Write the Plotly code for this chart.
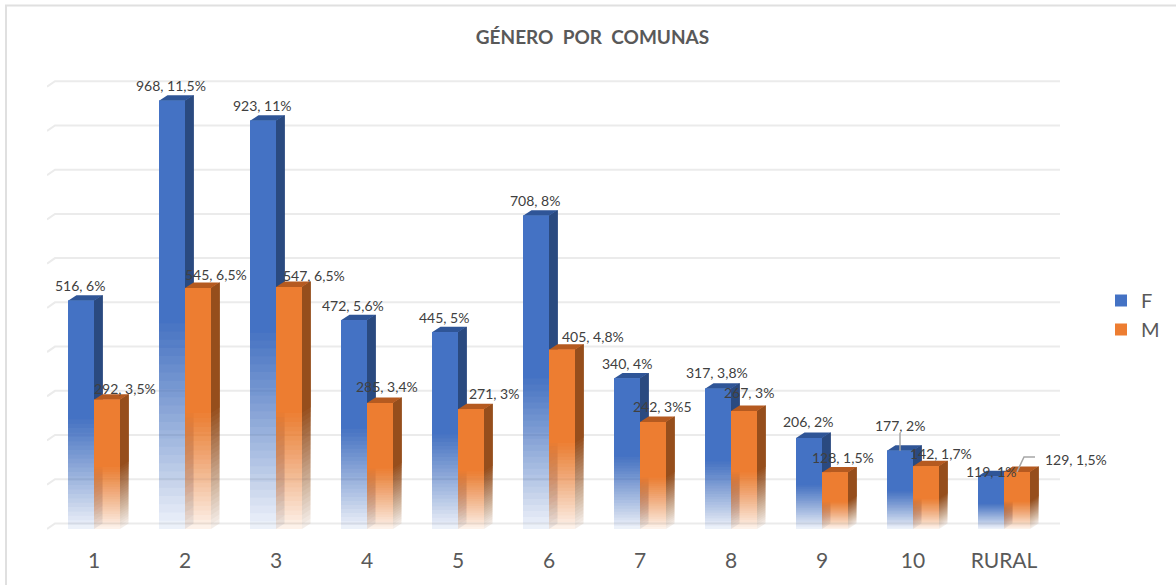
import plotly.graph_objects as go

# ---- data ----
categories = ["1", "2", "3", "4", "5", "6", "7", "8", "9", "10", "RURAL"]
series_f = [516, 968, 923, 472, 445, 708, 340, 317, 206, 177, 119]
series_m = [292, 545, 547, 285, 271, 405, 242, 267, 128, 142, 129]
labels_f = ["516, 6%", "968, 11,5%", "923, 11%", "472, 5,6%", "445, 5%", "708, 8%",
            "340, 4%", "317, 3,8%", "206, 2%", "177, 2%", "119, 1%"]
labels_m = ["292, 3,5%", "545, 6,5%", "547, 6,5%", "285, 3,4%", "271, 3%", "405, 4,8%",
            "242, 3%5", "267, 3%", "128, 1,5%", "142, 1,7%", "129, 1,5%"]
grid_values = list(range(0, 1100, 100))

# ---- layout nudges for the hand-placed labels (px: right, down) ----
nudge_f = [(-1, 15), (-1, 15), (-1, 15), (-1, 15), (-1, 15), (-1, 15),
           (0, 15), (-1, 16), (-1, 16), (0, 25), (0, 5)]
nudge_m = [(18, 11), (18, 13), (25, 12), (7, 16), (23, 16), (31, 13),
           (9, 15), (5, 18), (8, 15), (15, 13), (59, 12)]

# ---- geometry: pixel frame ----
W, H = 1176, 585
PX_PER_CAT = 91.0
CAT0_PX = 94.0
PX_PER_UNIT = 0.4423
BASE_PX = 529.0
LEFT_PX, RIGHT_PX = 47.0, 1060.0
TOP_PX, BOTTOM_PX = 50.0, 533.0
BAR_W = 26.0 / PX_PER_CAT
DX = 8.5 / PX_PER_CAT        # depth to the right
DY = 5.5 / PX_PER_UNIT       # depth upward
GRID_FRONT_DX = 8.0 / PX_PER_CAT

x_range = [(LEFT_PX - CAT0_PX) / PX_PER_CAT, (RIGHT_PX - CAT0_PX) / PX_PER_CAT]
y_range = [(BASE_PX - BOTTOM_PX) / PX_PER_UNIT, (BASE_PX - TOP_PX) / PX_PER_UNIT]
positions = list(range(len(categories)))

FRONT = {"F": (68, 114, 196), "M": (237, 125, 49)}
SIDE = {"F": (42, 74, 128), "M": (150, 78, 28)}
CAP = {"F": (47, 85, 151), "M": (181, 90, 32)}

N = 26
A0 = 0.10
fracs = [0.5 * k / N for k in range(N)]
targets = [A0 + (1 - A0) * (k / (N - 1)) for k in range(N)]
alphas = []
prev = 0.0
for t in targets:
    alphas.append(1.0 if t >= 1 else 1 - (1 - t) / (1 - prev))
    prev = t


def rgba(c, a=1.0):
    return f"rgba({c[0]},{c[1]},{c[2]},{a:.4f})"


fig = go.Figure()
shapes = []

# gridlines of the back wall with their slanted floor-side stub
for v in grid_values:
    x_l = x_range[0]
    x_b = x_range[0] + GRID_FRONT_DX
    shapes.append(dict(type="path", xref="x", yref="y", layer="below",
                       path=f"M{x_l},{v} L{x_b},{v + DY} L{x_range[1]},{v + DY}",
                       line=dict(color="#ebebeb", width=2)))


def add_series(name, values, offset):
    # side faces and caps, painted behind the bar fronts
    for i, v in zip(positions, values):
        xr = i + offset + BAR_W
        for f, a in zip(fracs, alphas):
            y0 = v * f
            shapes.append(dict(type="path", xref="x", yref="y", layer="below", line_width=0,
                               fillcolor=rgba(SIDE[name], a),
                               path=f"M{xr},{y0} L{xr + DX},{y0 + DY} L{xr + DX},{v + DY} L{xr},{v} Z"))
        xl = i + offset
        shapes.append(dict(type="path", xref="x", yref="y", layer="below", line_width=0,
                           fillcolor=rgba(CAP[name]),
                           path=f"M{xl},{v} L{xl + DX},{v + DY} L{xr + DX},{v + DY} L{xr},{v} Z"))
    # fronts: layered bars, each one starting higher, to build the fade
    for k, (f, a) in enumerate(zip(fracs, alphas)):
        last = k == N - 1
        fig.add_trace(go.Bar(
            x=positions,
            y=[v * (1 - f) for v in values],
            base=[v * f for v in values],
            width=BAR_W, offset=offset,
            name=name, legendgroup=name, showlegend=last,
            marker=dict(color=rgba(FRONT[name], a), line_width=0),
            hoverinfo="skip" if k else "x+name",
        ))


add_series("F", series_f, -BAR_W)
add_series("M", series_m, 0.0)

# leader lines, taken from the bar tops they point to
LINE = dict(color="#a6a6a6", width=1.5)
i10, irur = categories.index("10"), categories.index("RURAL")
shapes.append(dict(type="line", xref="x", yref="y", layer="above", line=LINE,
                   x0=i10 - BAR_W / 2, x1=i10 - BAR_W / 2,
                   y0=series_f[i10], y1=series_f[i10] + 18 / PX_PER_UNIT))
m_x = irur + BAR_W / 2
m_y = series_m[irur]
shapes.append(dict(type="path", xref="x", yref="y", layer="above", line=LINE,
                   path=f"M{m_x},{m_y} L{m_x + 7 / PX_PER_CAT},{m_y + 15 / PX_PER_UNIT} "
                        f"L{m_x + 18 / PX_PER_CAT},{m_y + 15 / PX_PER_UNIT}"))

# chart frame
FRAME = "#e0e0e0"
px_x = lambda p: (p - LEFT_PX) / (RIGHT_PX - LEFT_PX)
px_y = lambda p: (BOTTOM_PX - p) / (BOTTOM_PX - TOP_PX)
shapes.append(dict(type="line", xref="paper", yref="paper", line=dict(color=FRAME, width=2),
                   x0=px_x(5), x1=px_x(W), y0=px_y(5.5), y1=px_y(5.5)))
shapes.append(dict(type="line", xref="paper", yref="paper", line=dict(color=FRAME, width=2),
                   x0=px_x(6), x1=px_x(6), y0=px_y(5), y1=px_y(H)))

annotations = []
for values, labels, nudges, off in ((series_f, labels_f, nudge_f, -BAR_W / 2),
                                    (series_m, labels_m, nudge_m, BAR_W / 2)):
    for i, (v, t, (nx, ny)) in enumerate(zip(values, labels, nudges)):
        annotations.append(dict(x=i + off, y=v, xref="x", yref="y", text=t, showarrow=False,
                                xanchor="center", yanchor="middle", xshift=nx, yshift=ny,
                                font=dict(family="Lato", size=14, color="#404040")))

fig.update_layout(
    width=W, height=H,
    autosize=False,
    barmode="overlay",
    plot_bgcolor="white", paper_bgcolor="white",
    margin=dict(l=LEFT_PX, r=W - RIGHT_PX, t=TOP_PX, b=H - BOTTOM_PX, pad=0, autoexpand=False),
    title=dict(text="GÉNERO\u00a0\u00a0POR\u00a0\u00a0COMUNAS", x=(475 + 710) / 2 / W, xanchor="center",
               y=1 - 37 / H, yanchor="middle",
               font=dict(family="Lato", size=19, color="#595959", weight="bold")),
    xaxis=dict(range=x_range, tickmode="array", tickvals=positions, ticktext=categories,
               showgrid=False, zeroline=False, showline=False, ticks="", ticklabelstandoff=13,
               tickfont=dict(family="Lato", size=21, color="#595959")),
    yaxis=dict(range=y_range, showgrid=False, zeroline=False, showline=False,
               showticklabels=False, ticks=""),
    legend=dict(x=px_x(1101), y=px_y(281), yanchor="top", traceorder="normal",
                tracegroupgap=25, font=dict(family="Lato", size=20, color="#595959"),
                bgcolor="rgba(0,0,0,0)"),
    shapes=shapes,
    annotations=annotations,
    showlegend=True,
)
fig.write_html("out.html", config={"displayModeBar": False},
               post_script="document.body.style.margin='0';document.documentElement.style.overflow='hidden';")
